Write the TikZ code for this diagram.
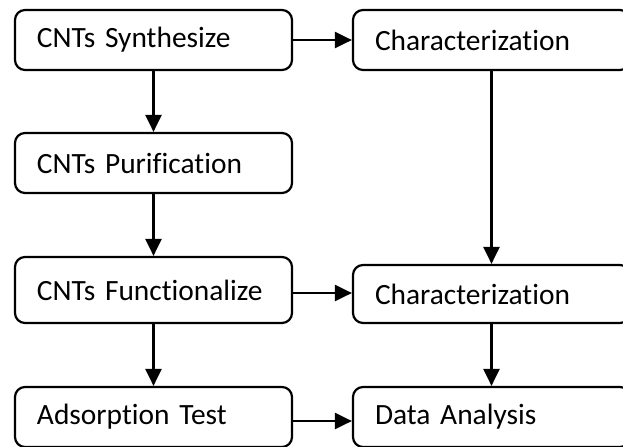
\documentclass[tikz,border=0pt]{standalone}
\usepackage{fontspec}
\setmainfont{Carlito}[Ligatures=NoCommon]
\usetikzlibrary{arrows.meta}

\begin{document}
\begin{tikzpicture}[x=0.5pt,y=-0.5pt,
  stepbox/.style={draw,line width=1.1pt,rounded corners=5pt,
    minimum width=138.5pt,text width=116.5pt,inner xsep=11pt,
    align=left,font=\fontsize{14.7}{17}\selectfont},
  link/.style={line width=1.1pt,-{Triangle[width=8pt,length=8.5pt]}}]
\clip (0,0) rectangle (623,446);
% left column
\node[stepbox,minimum height=30pt] (synth) at (153.5,40) {CNTs Synthesize};
\node[stepbox,minimum height=30pt] (purif) at (153.5,163) {CNTs Purification};
\node[stepbox,minimum height=33pt] (funct) at (153.5,290) {CNTs Functionalize};
\node[stepbox,minimum height=30pt] (adsorp) at (153.5,417) {Adsorption Test};
% right column
\node[stepbox,minimum height=30pt] (charA) at (491.5,40) {Characterization};
\node[stepbox,minimum height=29pt] (charB) at (491.5,294) {Characterization};
\node[stepbox,minimum height=30pt] (data) at (491.5,417) {Data Analysis};
% arrows
\draw[link] (synth) -- (purif);
\draw[link] (purif) -- (funct);
\draw[link] (funct) -- (adsorp);
\draw[link] (charA) -- (charB);
\draw[link] (charB) -- (data);
\draw[link] (synth) -- (charA);
\draw[link] ([yshift=-1.5pt]funct.east) -- ([yshift=-1.5pt]funct.east -| charB.west);
\draw[link] ([yshift=-2pt]adsorp.east) -- ([yshift=-2pt]adsorp.east -| data.west);
\end{tikzpicture}
\end{document}
